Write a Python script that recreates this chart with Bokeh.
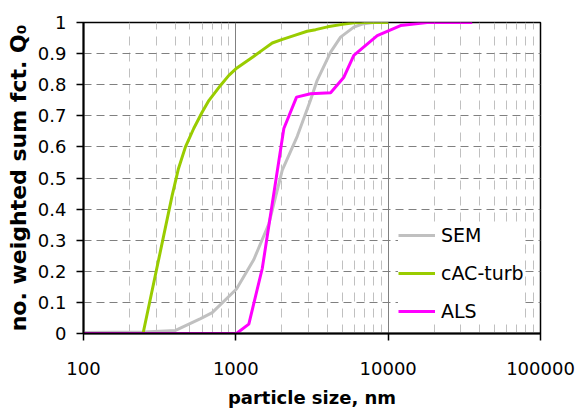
from bokeh.plotting import figure
from bokeh.models import FixedTicker, NumeralTickFormatter, Legend, LegendItem
from bokeh.embed import file_html
from bokeh.resources import INLINE

# ---- data ----
sem_x = [100, 250, 402, 587, 700, 1010, 1313, 1648, 2018, 2530, 3090, 3420, 4190, 4870, 5950, 6760, 8000, 10000]
sem_y = [0.003, 0.005, 0.01, 0.048, 0.067, 0.143, 0.238, 0.353, 0.525, 0.634, 0.75, 0.814, 0.905, 0.953, 0.985, 0.995, 1.0, 1.0]

cac_x = [246, 300, 382, 420, 467, 530, 602, 665, 800, 900, 1000, 1074, 1300, 1500, 1734, 2000, 2404, 2940, 3340, 4000, 5000, 5950, 7000, 10000]
cac_y = [0.0, 0.2, 0.444, 0.53, 0.6, 0.66, 0.712, 0.749, 0.80, 0.83, 0.851, 0.862, 0.89, 0.912, 0.934, 0.945, 0.958, 0.972, 0.977, 0.986, 0.994, 0.999, 1.0, 1.0]

als_x = [100, 1010, 1217, 1491, 2066, 2504, 3090, 4190, 5120, 5950, 8480, 12060, 18000, 35600]
als_y = [0.0, 0.0, 0.03, 0.209, 0.659, 0.760, 0.771, 0.774, 0.824, 0.894, 0.958, 0.99, 1.0, 1.0]

series_names = ["SEM", "cAC-turb", "ALS"]
series_colors = ["#c0c0c0", "#99cc00", "#ff00ff"]

x_major = [100, 1000, 10000, 100000]
x_minor = [m * d for d in [100, 1000, 10000] for m in range(2, 10)]
y_ticks = [0, 0.1, 0.2, 0.3, 0.4, 0.5, 0.6, 0.7, 0.8, 0.9, 1.0]

FONT = "DejaVu Sans"

p = figure(
    x_axis_type="log", x_range=(100, 100000), y_range=(0, 1),
    frame_width=457, frame_height=311,
    min_border_left=83, min_border_top=22, min_border_right=36, min_border_bottom=74,
    output_backend="svg", toolbar_location=None,
    background_fill_color="white", border_fill_color="white",
)
p.outline_line_color = "black"
p.outline_line_width = 1.5

# axes
p.xaxis.ticker = FixedTicker(ticks=x_major, minor_ticks=x_minor)
p.yaxis.ticker = FixedTicker(ticks=y_ticks)
p.xaxis.formatter = NumeralTickFormatter(format="0")
p.yaxis.formatter = NumeralTickFormatter(format="0.[0]")
for ax in (p.xaxis, p.yaxis):
    ax.axis_line_color = "black"
    ax.axis_line_width = 2
    ax.major_tick_line_color = "black"
    ax.major_tick_line_width = 1.5
    ax.major_tick_out = 7
    ax.major_tick_in = 0
    ax.minor_tick_line_color = None
    ax.major_label_text_font = FONT
    ax.major_label_text_font_size = "18px"
    ax.major_label_text_color = "black"
    ax.axis_label_text_font = FONT
    ax.axis_label_text_font_style = "bold"
    ax.axis_label_text_color = "black"
p.xaxis.major_label_standoff = 21
p.yaxis.major_label_standoff = 10
p.xaxis.axis_label = "particle size, nm"
p.xaxis.axis_label_text_font_size = "18px"
p.xaxis.axis_label_standoff = 9
p.yaxis.axis_label = "no. weighted sum fct. Q\u2080"
p.yaxis.axis_label_text_font_size = "22px"
p.yaxis.axis_label_standoff = 4

# grids
p.xgrid.grid_line_color = "#808080"
p.xgrid.grid_line_width = 1
p.xgrid.minor_grid_line_color = "#c0c0c0"
p.xgrid.minor_grid_line_width = 1
p.xgrid.minor_grid_line_dash = "9 7"
p.ygrid.grid_line_color = "#808080"
p.ygrid.grid_line_width = 1
p.ygrid.grid_line_dash = "8 5"

# lines
r_sem = p.line(sem_x, sem_y, line_color=series_colors[0], line_width=3)
r_cac = p.line(cac_x, cac_y, line_color=series_colors[1], line_width=3)
r_als = p.line(als_x, als_y, line_color=series_colors[2], line_width=3)

legend = Legend(
    items=[LegendItem(label=series_names[0], renderers=[r_sem]),
           LegendItem(label=series_names[1], renderers=[r_cac]),
           LegendItem(label=series_names[2], renderers=[r_als])],
    location=(315, 11), margin=0, padding=8, spacing=16,
    glyph_height=22, glyph_width=37, label_standoff=6,
    label_text_font=FONT, label_text_font_size="19px", label_text_color="black",
    border_line_color=None, background_fill_color="white", background_fill_alpha=1.0,
)
p.add_layout(legend)

open("out.html", "w").write(file_html(p, INLINE))
